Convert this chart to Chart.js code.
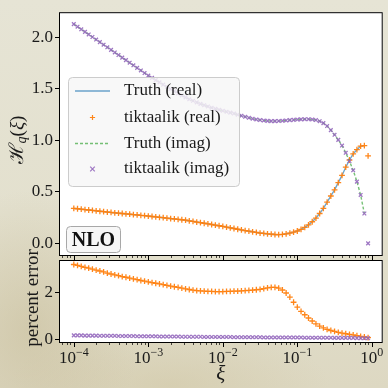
<!DOCTYPE html>
<html>
<head>
<meta charset="utf-8">
<script src="https://cdn.jsdelivr.net/npm/chart.js@4.4.1/dist/chart.umd.min.js"></script>
<style>
html, body { margin: 0; padding: 0; }
body {
  width: 388px; height: 388px; overflow: hidden; position: relative;
  background:
    radial-gradient(ellipse 110px 140px at 30px 330px, rgba(196,184,146,0.5), rgba(196,184,146,0) 100%),
    radial-gradient(ellipse 160px 60px at 170px 385px, rgba(206,195,158,0.45), rgba(206,195,158,0) 100%),
    linear-gradient(180deg, #e6e4d5 0%, #e3e0ce 55%, #ddd8c2 100%);
}
canvas { position: absolute; left: 0; top: 0; }
</style>
</head>
<body>
<canvas id="topChart" width="388" height="388"></canvas>
<canvas id="errChart" width="388" height="388"></canvas>
<script>
// grille en xi (exposants de 10)
var logXi = [
  -4.00, -3.95, -3.90, -3.85, -3.80, -3.75, -3.70, -3.65, -3.60, -3.55,
  -3.50, -3.45, -3.40, -3.35, -3.30, -3.25, -3.20, -3.15, -3.10, -3.05,
  -3.00, -2.95, -2.90, -2.85, -2.80, -2.75, -2.70, -2.65, -2.60, -2.55,
  -2.50, -2.45, -2.40, -2.35, -2.30, -2.25, -2.20, -2.15, -2.10, -2.05,
  -2.00, -1.95, -1.90, -1.85, -1.80, -1.75, -1.70, -1.65, -1.60, -1.55,
  -1.50, -1.45, -1.40, -1.35, -1.30, -1.25, -1.20, -1.15, -1.10, -1.05,
  -1.00, -0.95, -0.90, -0.85, -0.80, -0.75, -0.70, -0.65, -0.60, -0.55,
  -0.50, -0.45, -0.40, -0.35, -0.30, -0.25, -0.20, -0.15, -0.10, -0.05
];

// H_q(xi), partie réelle
var realValues = [
  0.340, 0.336, 0.332, 0.328, 0.324, 0.320, 0.316, 0.312, 0.308, 0.304,
  0.300, 0.297, 0.293, 0.290, 0.286, 0.283, 0.279, 0.276, 0.272, 0.269,
  0.265, 0.261, 0.257, 0.253, 0.249, 0.245, 0.241, 0.237, 0.233, 0.229,
  0.225, 0.219, 0.213, 0.207, 0.201, 0.195, 0.189, 0.183, 0.177, 0.171,
  0.165, 0.158, 0.151, 0.144, 0.137, 0.130, 0.124, 0.118, 0.112, 0.106,
  0.100, 0.096, 0.092, 0.089, 0.086, 0.085, 0.087, 0.092, 0.100, 0.109,
  0.120, 0.135, 0.155, 0.180, 0.210, 0.245, 0.290, 0.340, 0.400, 0.460,
  0.520, 0.590, 0.660, 0.740, 0.810, 0.870, 0.910, 0.945, 0.950, 0.850
];

// H_q(xi), partie imaginaire
var imagValues = [
  2.130, 2.105, 2.080, 2.055, 2.030, 2.005, 1.980, 1.955, 1.930, 1.905,
  1.880, 1.855, 1.830, 1.805, 1.780, 1.755, 1.730, 1.705, 1.680, 1.655,
  1.630, 1.608, 1.586, 1.564, 1.542, 1.520, 1.499, 1.478, 1.457, 1.437,
  1.418, 1.400, 1.385, 1.370, 1.355, 1.342, 1.330, 1.318, 1.307, 1.297,
  1.288, 1.279, 1.270, 1.261, 1.250, 1.240, 1.230, 1.220, 1.211, 1.204,
  1.198, 1.193, 1.190, 1.188, 1.188, 1.189, 1.191, 1.194, 1.197, 1.200,
  1.203, 1.205, 1.206, 1.206, 1.204, 1.198, 1.187, 1.168, 1.140, 1.100,
  1.055, 1.005, 0.950, 0.880, 0.800, 0.710, 0.600, 0.470, 0.290, 0.000
];

// erreur en pourcent
var realError = [
  3.23, 3.19, 3.15, 3.11, 3.07, 3.03, 2.99, 2.95, 2.91, 2.86,
  2.82, 2.78, 2.75, 2.71, 2.68, 2.64, 2.61, 2.58, 2.54, 2.51,
  2.48, 2.45, 2.42, 2.39, 2.36, 2.33, 2.30, 2.27, 2.24, 2.21,
  2.18, 2.15, 2.12, 2.10, 2.09, 2.08, 2.07, 2.07, 2.06, 2.06,
  2.06, 2.07, 2.07, 2.08, 2.08, 2.09, 2.10, 2.11, 2.12, 2.14,
  2.16, 2.19, 2.22, 2.24, 2.24, 2.21, 2.13, 2.00, 1.82, 1.60,
  1.39, 1.21, 1.06, 0.92, 0.79, 0.67, 0.57, 0.49, 0.43, 0.38,
  0.34, 0.30, 0.27, 0.24, 0.21, 0.19, 0.16, 0.13, 0.10, 0.07
];

var imagError = [
  0.17, 0.17, 0.17, 0.16, 0.16, 0.16, 0.16, 0.15, 0.15, 0.15,
  0.15, 0.15, 0.14, 0.14, 0.14, 0.14, 0.14, 0.13, 0.13, 0.13,
  0.13, 0.13, 0.13, 0.12, 0.12, 0.12, 0.12, 0.12, 0.12, 0.11,
  0.11, 0.11, 0.11, 0.11, 0.11, 0.10, 0.10, 0.10, 0.10, 0.10,
  0.10, 0.10, 0.10, 0.09, 0.09, 0.09, 0.09, 0.09, 0.09, 0.09,
  0.09, 0.08, 0.08, 0.08, 0.08, 0.08, 0.08, 0.08, 0.08, 0.08,
  0.08, 0.08, 0.07, 0.07, 0.07, 0.07, 0.07, 0.07, 0.07, 0.07,
  0.06, 0.06, 0.06, 0.06, 0.06, 0.06, 0.05, 0.05, 0.05, 0.05
];

var topTicks = [0, 0.5, 1.0, 1.5, 2.0];
var errTicks = [0, 2];
var xDecades = [-4, -3, -2, -1, 0];
var legendLabels = ['Truth (real)', 'tiktaalik (real)', 'Truth (imag)', 'tiktaalik (imag)'];

var FONT = '"Liberation Serif", "DejaVu Serif", serif';
var blue = 'rgba(31,119,180,0.65)';
var orange = 'rgba(255,127,14,0.95)';
var green = 'rgba(44,160,44,0.65)';
var purple = 'rgba(148,103,189,0.9)';
var xMin = 6.33e-5, xMax = 1.40;

function points(values, count) {
  var n = count || values.length;
  var out = [];
  for (var i = 0; i < n; i++) {
    out.push({ x: Math.pow(10, logXi[i]), y: values[i] });
  }
  return out;
}

function roundRect(ctx, x, y, w, h, r) {
  ctx.beginPath();
  ctx.moveTo(x + r, y);
  ctx.arcTo(x + w, y, x + w, y + h, r);
  ctx.arcTo(x + w, y + h, x, y + h, r);
  ctx.arcTo(x, y + h, x, y, r);
  ctx.arcTo(x, y, x + w, y, r);
  ctx.closePath();
}

function drawPlus(ctx, x, y, r, color) {
  ctx.strokeStyle = color; ctx.lineWidth = 1.2;
  ctx.beginPath();
  ctx.moveTo(x - r, y); ctx.lineTo(x + r, y);
  ctx.moveTo(x, y - r); ctx.lineTo(x, y + r);
  ctx.stroke();
}

function drawX(ctx, x, y, r, color) {
  ctx.strokeStyle = color; ctx.lineWidth = 1.2;
  ctx.beginPath();
  ctx.moveTo(x - r, y - r); ctx.lineTo(x + r, y + r);
  ctx.moveTo(x - r, y + r); ctx.lineTo(x + r, y - r);
  ctx.stroke();
}

// texte tourné en plusieurs morceaux (police, décalage)
function drawRotated(ctx, cx, cy, parts) {
  ctx.save();
  ctx.translate(cx, cy);
  ctx.rotate(-Math.PI / 2);
  ctx.textBaseline = 'middle';
  ctx.textAlign = 'left';
  ctx.fillStyle = '#1a1a1a';
  var total = 0;
  parts.forEach(function (p) { ctx.font = p.f; p.w = ctx.measureText(p.t).width; total += p.w; });
  var x = -total / 2;
  parts.forEach(function (p) { ctx.font = p.f; ctx.fillText(p.t, x, p.dy || 0); x += p.w; });
  ctx.restore();
}

// fond blanc + cadre + graduations log de l'axe x
var axesBox = {
  id: 'axesBox',
  beforeDraw: function (chart) {
    var a = chart.chartArea, ctx = chart.ctx;
    ctx.save();
    ctx.fillStyle = '#ffffff';
    ctx.fillRect(a.left, a.top, a.right - a.left, a.bottom - a.top);
    ctx.restore();
  },
  afterDatasetsDraw: function (chart) {
    var a = chart.chartArea, ctx = chart.ctx, xs = chart.scales.x;
    ctx.save();
    ctx.strokeStyle = '#000';
    ctx.lineWidth = 1;
    ctx.strokeRect(a.left + 0.5, a.top + 0.5, a.right - a.left - 1, a.bottom - a.top - 1);
    for (var e = -5; e <= 0; e++) {
      for (var m = 1; m <= 9; m++) {
        var v = m * Math.pow(10, e);
        if (v < xMin || v > xMax) continue;
        var px = Math.round(xs.getPixelForValue(v)) + 0.5;
        ctx.lineWidth = m === 1 ? 1 : 0.7;
        ctx.beginPath();
        ctx.moveTo(px, a.bottom);
        ctx.lineTo(px, a.bottom + (m === 1 ? 4 : 2));
        ctx.stroke();
      }
    }
    ctx.restore();
  }
};

var topDecor = {
  id: 'topDecor',
  afterDraw: function (chart) {
    var ctx = chart.ctx;
    ctx.save();
    // légende
    roundRect(ctx, 68.5, 77.5, 171, 109, 4);
    ctx.fillStyle = 'rgba(246,246,246,0.82)';
    ctx.fill();
    ctx.strokeStyle = '#cccccc';
    ctx.lineWidth = 1;
    ctx.stroke();
    var rows = [91, 117.5, 143.5, 169];
    ctx.lineWidth = 1.4;
    ctx.strokeStyle = blue;
    ctx.beginPath(); ctx.moveTo(75, rows[0]); ctx.lineTo(110, rows[0]); ctx.stroke();
    drawPlus(ctx, 92.5, rows[1], 2.6, orange);
    ctx.lineWidth = 1.4;
    ctx.strokeStyle = green;
    ctx.setLineDash([3, 2]);
    ctx.beginPath(); ctx.moveTo(75, rows[2]); ctx.lineTo(110, rows[2]); ctx.stroke();
    ctx.setLineDash([]);
    drawX(ctx, 92.5, rows[3], 2.3, purple);
    ctx.fillStyle = '#1a1a1a';
    ctx.font = '17px ' + FONT;
    ctx.textBaseline = 'middle';
    ctx.textAlign = 'left';
    legendLabels.forEach(function (t, i) { ctx.fillText(t, 124, rows[i]); });

    // boîte NLO
    roundRect(ctx, 66.5, 226.5, 54, 26, 4);
    ctx.fillStyle = 'rgba(246,246,246,0.9)';
    ctx.fill();
    ctx.strokeStyle = '#a8a8a8';
    ctx.lineWidth = 1;
    ctx.stroke();
    ctx.fillStyle = '#111';
    ctx.font = 'bold 20px ' + FONT;
    ctx.textAlign = 'center';
    ctx.fillText('NLO', 93.5, 240.5);
    ctx.restore();

    drawRotated(ctx, 18, 140, [
      { t: 'ℋ', f: '20px ' + FONT },
      { t: 'q', f: 'italic 14px ' + FONT, dy: 4 },
      { t: '(', f: '19px ' + FONT },
      { t: 'ξ', f: 'italic 19px ' + FONT },
      { t: ')', f: '19px ' + FONT }
    ]);
  }
};

var errDecor = {
  id: 'errDecor',
  afterDraw: function (chart) {
    var ctx = chart.ctx, xs = chart.scales.x;
    ctx.save();
    ctx.fillStyle = '#1a1a1a';
    ctx.textBaseline = 'alphabetic';
    ctx.textAlign = 'left';
    xDecades.forEach(function (e) {
      var px = xs.getPixelForValue(Math.pow(10, e));
      var exp = e === 0 ? '0' : '\u2212' + Math.abs(e);
      ctx.font = '17px ' + FONT;
      var w1 = ctx.measureText('10').width;
      ctx.font = '12px ' + FONT;
      var w2 = ctx.measureText(exp).width;
      var x0 = px - (w1 + w2) / 2;
      ctx.font = '17px ' + FONT;
      ctx.fillText('10', x0, 363);
      ctx.font = '12px ' + FONT;
      ctx.fillText(exp, x0 + w1, 356);
    });
    ctx.font = 'italic 21px ' + FONT;
    ctx.textAlign = 'center';
    ctx.fillText('ξ', (chart.chartArea.left + chart.chartArea.right) / 2, 380);
    ctx.restore();
    drawRotated(ctx, 33, 298, [{ t: 'percent error', f: '19px ' + FONT }]);
  }
};

function yAxis(min, max, ticks, fmt) {
  return {
    type: 'linear', min: min, max: max,
    afterBuildTicks: function (s) { s.ticks = ticks.map(function (v) { return { value: v }; }); },
    afterFit: function (s) { s.width = 59; },
    grid: { drawOnChartArea: false, drawTicks: true, tickLength: 4, tickColor: '#000', tickWidth: 1 },
    border: { display: false },
    ticks: { font: { family: FONT, size: 17 }, color: '#1a1a1a', padding: 2, callback: fmt }
  };
}

Chart.defaults.animation = false;

new Chart(document.getElementById('topChart'), {
  type: 'scatter',
  data: {
    datasets: [
      { label: legendLabels[3], data: points(imagValues), pointStyle: 'crossRot', pointRadius: 2.6, borderColor: purple, backgroundColor: purple, borderWidth: 1.3 },
      { label: legendLabels[2], data: points(imagValues, 79), showLine: true, pointRadius: 0, borderColor: green, borderDash: [3, 2], borderWidth: 1.4 },
      { label: legendLabels[1], data: points(realValues), pointStyle: 'cross', pointRadius: 2.9, borderColor: orange, backgroundColor: orange, borderWidth: 1.3 },
      { label: legendLabels[0], data: points(realValues, 79), showLine: true, pointRadius: 0, borderColor: blue, borderWidth: 1.4 }
    ]
  },
  options: {
    responsive: false,
    devicePixelRatio: 1,
    layout: { padding: { top: 6, right: 1, bottom: 132, left: 0 } },
    plugins: { legend: { display: false }, tooltip: { enabled: false } },
    scales: {
      x: { type: 'logarithmic', min: xMin, max: xMax, display: false },
      y: yAxis(-0.123, 2.246, topTicks, function (v) { return v.toFixed(1); })
    }
  },
  plugins: [axesBox, topDecor]
});

new Chart(document.getElementById('errChart'), {
  type: 'scatter',
  data: {
    datasets: [
      { label: 'tiktaalik (imag)', data: points(imagError), pointStyle: 'crossRot', pointRadius: 2.6, borderColor: purple, backgroundColor: purple, borderWidth: 1.3 },
      { label: 'tiktaalik (real)', data: points(realError), pointStyle: 'cross', pointRadius: 2.9, borderColor: orange, backgroundColor: orange, borderWidth: 1.3 }
    ]
  },
  options: {
    responsive: false,
    devicePixelRatio: 1,
    layout: { padding: { top: 260, right: 1, bottom: 0, left: 0 } },
    plugins: { legend: { display: false }, tooltip: { enabled: false } },
    scales: {
      x: {
        type: 'logarithmic', min: xMin, max: xMax,
        afterFit: function (s) { s.height = 45; },
        grid: { display: false },
        border: { display: false },
        ticks: { autoSkip: false, maxRotation: 0, callback: function () { return ''; } }
      },
      y: yAxis(-0.16, 3.425, errTicks, function (v) { return String(v); })
    }
  },
  plugins: [axesBox, errDecor]
});
</script>
</body>
</html>
